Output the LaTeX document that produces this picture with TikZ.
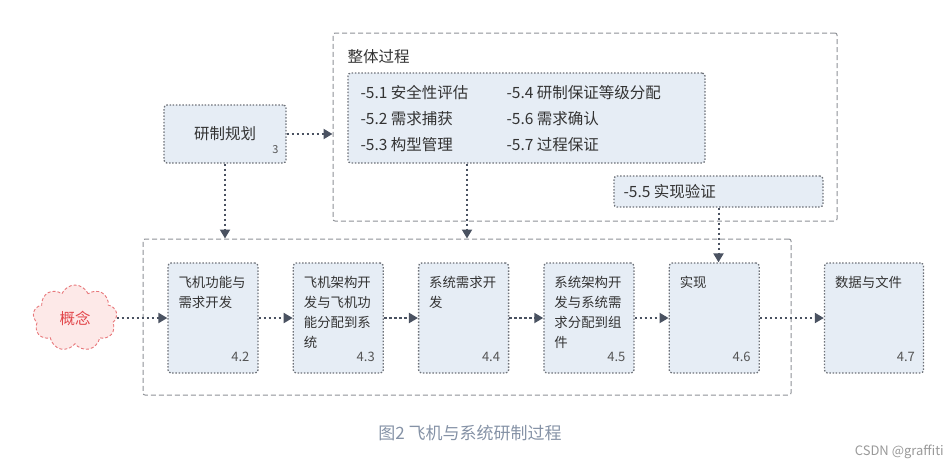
\documentclass[tikz,border=0pt]{standalone}
\usepackage{fontspec}
\setmainfont{Noto Sans CJK SC}
\usetikzlibrary{positioning,arrows.meta,shapes.symbols}
\definecolor{boxfill}{HTML}{E6EDF5}
\definecolor{boxline}{HTML}{6E7279}
\definecolor{groupline}{HTML}{8E9196}
\definecolor{arrowgray}{HTML}{4A5261}
\definecolor{textdark}{HTML}{333333}
\definecolor{numgray}{HTML}{555555}
\definecolor{cloudfill}{HTML}{FDE9E8}
\definecolor{cloudline}{HTML}{E8777A}
\definecolor{cloudtext}{HTML}{E2474B}
\definecolor{captiongray}{HTML}{8592A6}

\begin{document}
\begin{tikzpicture}[x=1pt,y=-1pt,
    node distance=34pt,
    every node/.style={text=textdark,inner sep=0pt},
    stagebox/.style={rectangle,rounded corners=3pt,draw=boxline,fill=boxfill,
      line width=1.3pt,dash pattern=on 1.5pt off 1.7pt,minimum width=90pt,minimum height=110pt},
    groupbox/.style={rectangle,rounded corners=2pt,draw=groupline,line width=1pt,
      dash pattern=on 5pt off 3pt},
    stagetxt/.style={anchor=north west,align=left,font=\fontsize{13.4}{20}\selectfont},
    numtag/.style={anchor=south east,text=numgray,font=\fontsize{13}{15}\selectfont},
    listtxt/.style={anchor=north west,align=left,font=\fontsize{15.5}{26}\selectfont},
    arrow/.style={arrowgray,line width=2pt,dash pattern=on 2.6pt off 2.4pt,
      -{Triangle[length=9pt,width=10pt]}},
  ]
  \useasboundingbox (0,0) rectangle (950,464);

  \node[groupbox,minimum width=504pt,minimum height=188pt] (whole) at (585,127) {};
  \node[groupbox,minimum width=648pt,minimum height=156pt] (flow) at (467,317) {};
  \node[listtxt] (wholetitle) at ([shift={(15,17)}]whole.north west) {整体过程};

  \node[stagebox,minimum width=357pt,minimum height=90pt] (listbox) at (526.5,118) {};
  \node[listtxt] (colA) at ([shift={(13,13)}]listbox.north west) {-5.1 安全性评估\\-5.2 需求捕获\\-5.3 构型管理};
  \node[listtxt] (colB) at ([shift={(159,13)}]listbox.north west) {-5.4 研制保证等级分配\\-5.6 需求确认\\-5.7 过程保证};

  \node[stagebox,minimum width=209pt,minimum height=31pt] (check) at (718.5,191.5) {};
  \node[listtxt,anchor=west] (checktxt) at ([xshift=10pt]check.west) {-5.5 实现验证};

  \node[stagebox,minimum width=122pt,minimum height=58pt,
    font=\fontsize{15.5}{18}\selectfont] (plan) at (225,134) {研制规划};
  \node[numtag,font=\fontsize{11}{13}\selectfont] at ([shift={(-8,-10)}]plan.south east) {3};

  \node[cloud,cloud puffs=9,cloud puff arc=135,aspect=1.2,minimum width=84pt,minimum height=66pt,
    draw=cloudline,fill=cloudfill,line width=0.9pt,dash pattern=on 3pt off 2pt,
    text=cloudtext,font=\fontsize{15.5}{18}\selectfont] (idea) at (75,318) {概念};

  \node[stagebox] (s42) at (213,318) {};
  \node[stagebox,right=of s42] (s43) {};
  \node[stagebox,right=of s43] (s44) {};
  \node[stagebox,right=of s44] (s45) {};
  \node[stagebox,right=of s45] (s46) {};
  \node[stagebox,right=64pt of s46,minimum width=99pt] (s47) {};

  \node[stagetxt] at ([shift={(11,14)}]s42.north west) {飞机功能与\\需求开发};
  \node[stagetxt] at ([shift={(11,14)}]s43.north west) {飞机架构开\\发与飞机功\\能分配到系\\统};
  \node[stagetxt] at ([shift={(11,14)}]s44.north west) {系统需求开\\发};
  \node[stagetxt] at ([shift={(11,14)}]s45.north west) {系统架构开\\发与系统需\\求分配到组\\件};
  \node[stagetxt] at ([shift={(11,14)}]s46.north west) {实现};
  \node[stagetxt] at ([shift={(11,14)}]s47.north west) {数据与文件};

  \node[numtag] at ([shift={(-9,-12)}]s42.south east) {4.2};
  \node[numtag] at ([shift={(-9,-12)}]s43.south east) {4.3};
  \node[numtag] at ([shift={(-9,-12)}]s44.south east) {4.4};
  \node[numtag] at ([shift={(-9,-12)}]s45.south east) {4.5};
  \node[numtag] at ([shift={(-9,-12)}]s46.south east) {4.6};
  \node[numtag] at ([shift={(-9,-12)}]s47.south east) {4.7};

  \draw[arrow] (idea.east) -- (idea.east -| s42.west);
  \draw[arrow] (s42) -- (s43);
  \draw[arrow] (s43) -- (s44);
  \draw[arrow] (s44) -- (s45);
  \draw[arrow] (s45) -- (s46);
  \draw[arrow] (s46) -- (s47);
  \draw[arrow] (plan.east) -- (plan.east -| whole.west);
  \draw[arrow] (plan.south) -- (plan.south |- flow.north);
  \draw[arrow] (flow.north |- listbox.south) -- (flow.north);
  \draw[arrow] (check.south) -- (check.south |- s46.north);

  \node[text=captiongray,font=\fontsize{17}{20}\selectfont] (caption) at (470,433) {图2 飞机与系统研制过程};
  \node[anchor=east,text=black!40,font=\fontsize{13}{15}\selectfont] (credit) at (944,452) {CSDN @graffiti};
\end{tikzpicture}
\end{document}
